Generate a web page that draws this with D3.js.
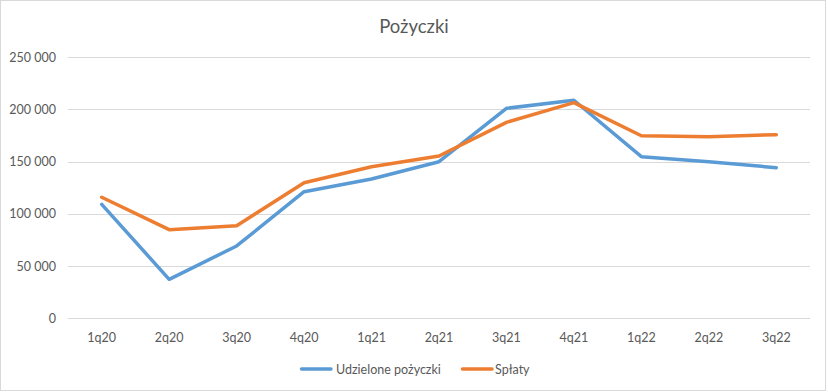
<!DOCTYPE html>
<html><head><meta charset="utf-8">
<script src="https://cdn.jsdelivr.net/npm/d3@7"></script>
<style>body{margin:0;background:#fff}svg{display:block}</style>
</head><body>
<svg id="c" width="828" height="392"></svg>
<script>
const categories = ["1q20","2q20","3q20","4q20","1q21","2q21","3q21","4q21","1q22","2q22","3q22"];
const udzielone = [109000, 37300, 69200, 121100, 133300, 149800, 200900, 208600, 154600, 149800, 144100];
const splaty = [115800, 84800, 88600, 129700, 145000, 155300, 187500, 206300, 174700, 173800, 175700];
const yTicks = [0, 50000, 100000, 150000, 200000, 250000];
const seriesNames = ["Udzielone pożyczki", "Spłaty"];
const colors = ["#5B9BD5", "#ED7D31"];

const svg = d3.select("#c");
const font = "Lato, 'Open Sans', 'Liberation Sans', sans-serif";
const textColor = "#595959";

svg.append("rect").attr("x",0.5).attr("y",0.5).attr("width",825).attr("height",390)
  .attr("fill","#fff").attr("stroke","#d9d9d9");

const x = d3.scaleBand().domain(categories).range([68, 810]);
const y = d3.scaleLinear().domain([0, 250000]).range([318.3, 57]);

// gridlines
svg.append("g").selectAll("line").data(yTicks).join("line")
  .attr("x1",68).attr("x2",810)
  .attr("y1",d=>Math.round(y(d))+0.5).attr("y2",d=>Math.round(y(d))+0.5)
  .attr("stroke","#d9d9d9").attr("stroke-width",1);

const fmt = d => d3.format(",")(d).replace(/,/g, " ");

// y axis
const yAxis = d3.axisLeft(y).tickValues(yTicks).tickFormat(fmt).tickSize(0).tickPadding(0);
const gy = svg.append("g").attr("transform","translate(56,0)").call(yAxis);
gy.select(".domain").remove();
gy.selectAll("text").attr("font-family",font).attr("font-size",12.5).attr("fill",textColor);

// x axis
const xAxis = d3.axisBottom(x).tickSize(0).tickPadding(0);
const gx = svg.append("g").attr("transform","translate(0,333)").call(xAxis);
gx.select(".domain").remove();
gx.selectAll("text").attr("font-family",font).attr("font-size",12.5).attr("fill",textColor);

// lines
const line = d3.line().x((d,i)=>x(categories[i]) + x.bandwidth()/2).y(d=>y(d));
[udzielone, splaty].forEach((s,k)=>{
  svg.append("path").datum(s).attr("d",line).attr("fill","none")
    .attr("stroke",colors[k]).attr("stroke-width",3.5)
    .attr("stroke-linejoin","round").attr("stroke-linecap","round");
});

// title
svg.append("text").attr("x",414).attr("y",33).attr("text-anchor","middle")
  .attr("font-family",font).attr("font-size",18.5).attr("fill",textColor).text("Pożyczki");

// legend
const legendItems = [{x:300, tx:336}, {x:461, tx:495}];
legendItems.forEach((p,k)=>{
  svg.append("line").attr("x1",p.x+1.5).attr("x2",p.x+31).attr("y1",369).attr("y2",369)
    .attr("stroke",colors[k]).attr("stroke-width",3.5).attr("stroke-linecap","round");
  svg.append("text").attr("x",p.tx).attr("y",373.5).attr("font-family",font)
    .attr("font-size",12.5).attr("fill",textColor).text(seriesNames[k]);
});
</script>
</body></html>
